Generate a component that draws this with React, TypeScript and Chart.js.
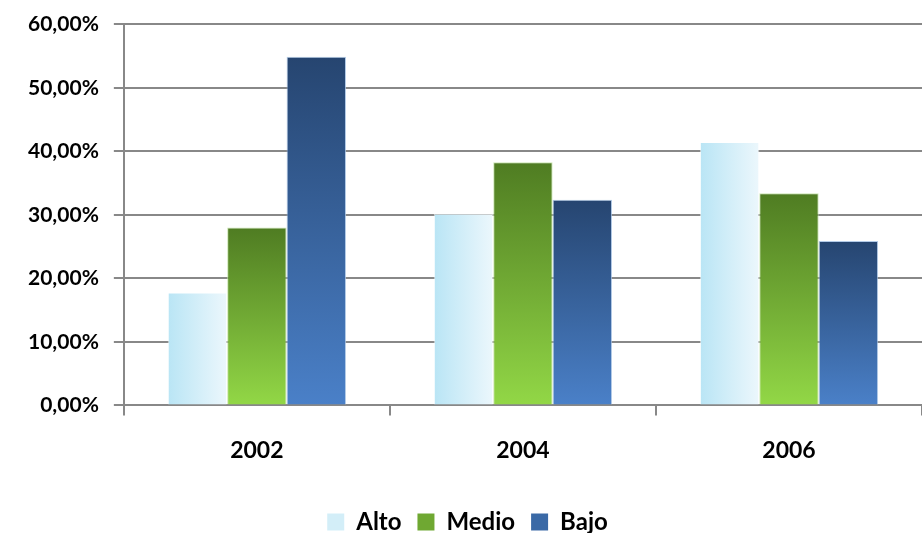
import React, { useEffect, useRef } from "react";
import { Chart, registerables } from "chart.js";

Chart.register(...registerables);

const categories = ["2002", "2004", "2006"];
const seriesNames = ["Alto", "Medio", "Bajo"];
const altoValues = [17.8, 30.2, 41.5];
const medioValues = [28.0, 38.3, 33.4];
const bajoValues = [54.9, 32.4, 25.9];
const yMax = 60;
const yStep = 10;

const FONT = "Lato, 'Open Sans', sans-serif";

type Kind = "alto" | "medio" | "bajo";
const fallback: Record<Kind, string> = {
  alto: "#d3eef8",
  medio: "#6fa832",
  bajo: "#3a69a6",
};

function barFill(kind: Kind) {
  return (ctx: any) => {
    const el = ctx.element;
    const c: CanvasRenderingContext2D = ctx.chart.ctx;
    if (!el || !isFinite(el.x) || !isFinite(el.y) || !el.width || !isFinite(el.base)) {
      return fallback[kind];
    }
    if (kind === "alto") {
      const g = c.createLinearGradient(el.x - el.width / 2, 0, el.x + el.width / 2, 0);
      g.addColorStop(0, "#b9e5f5");
      g.addColorStop(1, "#ecf7fc");
      return g;
    }
    const g = c.createLinearGradient(0, el.y, 0, el.base);
    if (kind === "medio") {
      g.addColorStop(0, "#4f7c22");
      g.addColorStop(1, "#92d746");
    } else {
      g.addColorStop(0, "#264570");
      g.addColorStop(1, "#4a80c8");
    }
    return g;
  };
}

export default function App() {
  const ref = useRef<HTMLCanvasElement | null>(null);

  useEffect(() => {
    document.body.style.margin = "0";
    if (!ref.current) return;
    const chart = new Chart(ref.current, {
      type: "bar",
      data: {
        labels: categories,
        datasets: [
          {
            label: seriesNames[0],
            data: altoValues,
            backgroundColor: barFill("alto"),
            borderColor: "rgba(255,255,255,0.6)",
            borderWidth: 1,
          },
          {
            label: seriesNames[1],
            data: medioValues,
            backgroundColor: barFill("medio"),
            borderColor: "rgba(190,225,160,0.8)",
            borderWidth: 1,
          },
          {
            label: seriesNames[2],
            data: bajoValues,
            backgroundColor: barFill("bajo"),
            borderColor: "rgba(160,190,225,0.8)",
            borderWidth: 1,
          },
        ],
      },
      options: {
        responsive: false,
        animation: false,
        layout: { padding: { top: 4, left: 13, right: 0, bottom: -11 } },
        datasets: {
          bar: { categoryPercentage: 0.67, barPercentage: 1 },
        },
        plugins: {
          tooltip: { enabled: false },
          legend: {
            position: "bottom",
            labels: {
              color: "#000",
              font: { family: FONT, size: 24, weight: "bold" },
              boxWidth: 17,
              boxHeight: 17,
              padding: 16,
              generateLabels: (chart: any) =>
                chart.data.datasets.map((ds: any, i: number) => ({
                  text: ds.label,
                  fillStyle: fallback[(["alto", "medio", "bajo"] as Kind[])[i]],
                  strokeStyle: "rgba(0,0,0,0)",
                  lineWidth: 0,
                  hidden: false,
                  datasetIndex: i,
                })),
            },
          },
        },
        scales: {
          x: {
            offset: true,
            afterFit: (scale: any) => {
              scale.height += 9;
            },
            grid: {
              display: true,
              drawOnChartArea: false,
              drawTicks: true,
              tickLength: 10,
              color: "#888888",
              lineWidth: 2,
            },
            border: { display: true, color: "#888888", width: 2 },
            ticks: {
              color: "#000",
              font: { family: FONT, size: 23, weight: "bold" },
              padding: 21,
            },
          },
          y: {
            min: 0,
            max: yMax,
            ticks: {
              stepSize: yStep,
              color: "#000",
              font: { family: FONT, size: 21, weight: "bold", lineHeight: 0.9 },
              padding: 15,
              callback: (v: any) => Number(v).toFixed(2).replace(".", ",") + "%",
            },
            grid: {
              color: "#888888",
              lineWidth: 2,
              tickLength: 10,
            },
            border: { display: true, color: "#888888", width: 2 },
          },
        },
      },
    });
    chart.update();
    return () => chart.destroy();
  }, []);

  return (
    <div style={{ width: 922, height: 533 }}>
      <canvas ref={ref} width={922} height={533} />
    </div>
  );
}
